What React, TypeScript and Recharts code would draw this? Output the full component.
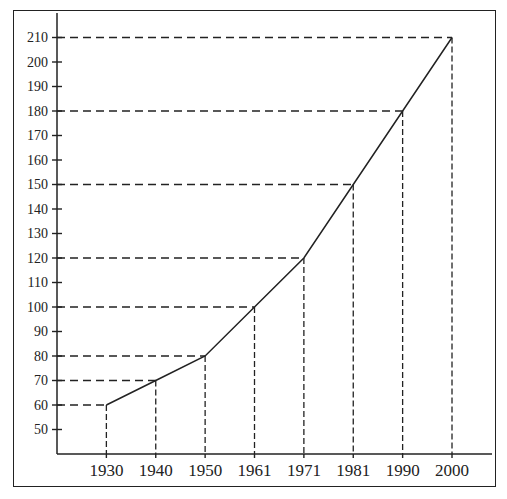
import { Line, LineChart, ReferenceLine, XAxis, YAxis } from "recharts";

const years = ["1930", "1940", "1950", "1961", "1971", "1981", "1990", "2000"];
const values = [60, 70, 80, 100, 120, 150, 180, 210];
const yTicks = [50, 60, 70, 80, 90, 100, 110, 120, 130, 140, 150, 160, 170, 180, 190, 200, 210];
const xTicks = years.map((_, i) => i);

const data = years.map((year, i) => ({ idx: i, year, value: values[i] }));

const ink = "#222";
const font = "'Liberation Serif', 'Times New Roman', serif";

function YTick(props: any) {
  const { x, y, payload } = props;
  return (
    <g>
      <line x1={x + 4} x2={x + 14} y1={y} y2={y} stroke={ink} strokeWidth={1.4} />
      <text x={x} y={y} dy="0.35em" textAnchor="end" fontSize={14} fontFamily={font} fill={ink}>
        {payload.value}
      </text>
    </g>
  );
}

export default function App() {
  return (
    <div style={{ position: "absolute", left: 0, top: 0, width: 507, height: 499, background: "#fff" }}>
      <div
        style={{
          position: "absolute",
          left: 13,
          top: 10,
          width: 481,
          height: 475,
          border: `1.5px solid ${ink}`,
        }}
      />
      <div style={{ position: "absolute", left: 0, top: 0 }}>
        <LineChart width={507} height={499} data={data} margin={{ top: 13, right: 15, bottom: 15, left: 0 }}>
          <XAxis
            type="number"
            dataKey="idx"
            domain={[-1, 7.81]}
            ticks={xTicks}
            interval={0}
            height={30}
            tickSize={4}
            tickMargin={6}
            tickFormatter={(i: number) => years[i]}
            axisLine={{ stroke: ink, strokeWidth: 1.5 }}
            tickLine={{ stroke: ink, strokeWidth: 1.4 }}
            tick={{ fontSize: 17, fontFamily: font, fill: ink }}
          />
          <YAxis
            type="number"
            domain={[40, 220]}
            ticks={yTicks}
            interval={0}
            width={57}
            tickSize={5}
            tickMargin={4}
            tickLine={false}
            axisLine={{ stroke: ink, strokeWidth: 1.5 }}
            tick={<YTick />}
          />
          {data.map((d) => (
            <ReferenceLine
              key={"h" + d.idx}
              segment={[
                { x: -1, y: d.value },
                { x: d.idx, y: d.value },
              ]}
              stroke={ink}
              strokeWidth={1.5}
              strokeDasharray="8 5"
            />
          ))}
          {data.map((d) => (
            <ReferenceLine
              key={"v" + d.idx}
              segment={[
                { x: d.idx, y: d.value },
                { x: d.idx, y: 40 },
              ]}
              stroke={ink}
              strokeWidth={1.3}
              strokeDasharray="6 3"
            />
          ))}
          <Line
            type="linear"
            dataKey="value"
            stroke={ink}
            strokeWidth={1.5}
            dot={false}
            isAnimationActive={false}
          />
        </LineChart>
      </div>
    </div>
  );
}
